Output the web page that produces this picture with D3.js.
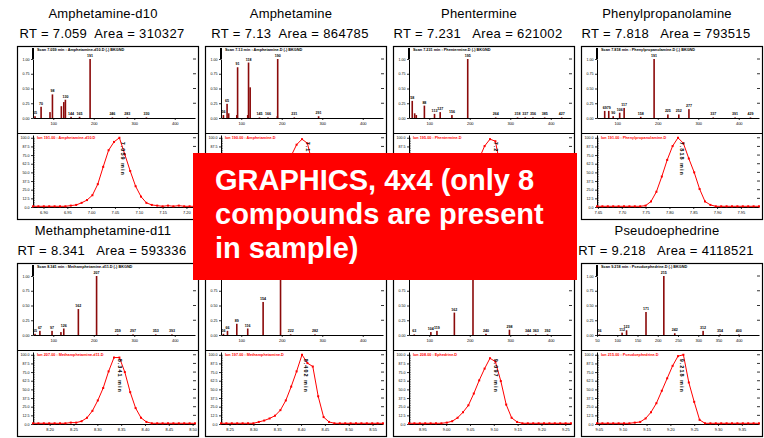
<!DOCTYPE html>
<html>
<head>
<meta charset="utf-8">
<script src="https://cdn.jsdelivr.net/npm/d3@7"></script>
<style>
body { margin: 0; background: #fff; }
svg text { font-family: "Liberation Sans", Arial, sans-serif; }
</style>
</head>
<body>
<div id="chart"></div>
<script>
var W = 764, H = 438;

// compounds, retention times and areas
var compounds = ["Amphetamine-d10", "Amphetamine", "Phentermine", "Phenylpropanolamine",
                 "Methamphetamine-d11", "Methamphetamine", "Ephedrine", "Pseudoephedrine"];
var rtLabels = ["7.059", "7.13", "7.231", "7.818", "8.341", "8.402", "9.097", "9.218"];
var areas = ["310327", "864785", "621002", "793515", "593336", "1124380", "3052217", "4118521"];

// mass spectra (m/z, relative abundance)
var specMz = [
  [55, 70, 92, 98, 120, 126, 130, 144, 165, 191, 246, 283, 330],
  [56, 65, 69, 89, 91, 116, 118, 122, 145, 166, 189, 190, 231, 291],
  [58, 64, 68, 88, 113, 127, 156, 195, 264, 318, 337, 356, 385, 427],
  [69, 79, 90, 106, 117, 158, 191, 225, 252, 277, 337, 391, 429],
  [55, 67, 97, 119, 126, 162, 207, 259, 297, 353, 393],
  [56, 66, 89, 116, 154, 197, 222, 282],
  [63, 104, 119, 162, 208, 240, 298, 344, 363, 392],
  [56, 112, 123, 171, 215, 242, 312, 354, 400]
];
var specInt = [
  [0.03, 0.19, 0.10, 0.40, 0.20, 0.27, 0.31, 0.02, 0.02, 1.00, 0.01, 0.01, 0.01],
  [0.05, 0.24, 0.08, 0.05, 0.86, 0.05, 0.94, 0.52, 0.01, 0.01, 0.03, 1.00, 0.01, 0.03],
  [0.29, 0.08, 0.05, 0.21, 0.07, 0.10, 0.05, 1.00, 0.01, 0.01, 0.01, 0.01, 0.01, 0.01],
  [0.12, 0.12, 0.03, 0.09, 0.17, 0.02, 1.00, 0.06, 0.06, 0.15, 0.01, 0.01, 0.01],
  [0.02, 0.07, 0.07, 0.05, 0.11, 0.44, 1.00, 0.01, 0.01, 0.01, 0.01],
  [0.02, 0.07, 0.19, 0.11, 0.56, 1.00, 0.01, 0.01],
  [0.01, 0.05, 0.07, 0.38, 1.00, 0.02, 0.09, 0.01, 0.01, 0.01],
  [0.01, 0.04, 0.08, 0.39, 1.00, 0.03, 0.07, 0.01, 0.01]
];
var specTicks = [
  [100, 200, 300, 400], [100, 200, 300, 400], [100, 200, 300, 400], [100, 200, 300, 400],
  [100, 200, 300, 400], [100, 200, 300, 400], [100, 200, 300, 400],
  [50, 100, 150, 200, 250, 300, 350, 400]
];

// extracted ion chromatograms: first scan time (min) and intensities (%)
var chromSpan = 0.34;
var chromStart = [6.878, 6.954, 7.055, 7.648, 8.165, 8.232, 8.922, 9.046];
var chromInt = [
  [1, 1, 1, 1, 1, 1, 1, 2, 3, 6, 10, 17, 33, 58, 82, 94, 100, 76, 52, 30, 15, 6, 3, 2, 1, 2, 1, 2, 1, 1, 1],
  [1, 1, 1, 1, 1, 1, 1, 2, 4, 7, 12, 22, 40, 74, 90, 98, 92, 60, 28, 11, 4, 2, 1, 1, 1, 1, 1, 1, 1, 1, 1],
  [1, 1, 1, 1, 1, 1, 1, 1, 2, 4, 8, 18, 45, 70, 88, 98, 95, 55, 22, 7, 3, 1, 1, 1, 1, 1, 1, 1, 1, 1, 1],
  [1, 1, 1, 1, 1, 1, 1, 1, 1, 2, 8, 22, 44, 68, 88, 100, 92, 70, 50, 26, 8, 3, 1, 1, 1, 1, 1, 1, 1, 1, 1],
  [1, 1, 1, 1, 1, 1, 1, 2, 2, 4, 9, 19, 34, 52, 76, 96, 96, 75, 46, 23, 9, 3, 1, 1, 1, 1, 1, 1, 1, 1, 1],
  [1, 1, 1, 1, 1, 1, 1, 3, 5, 8, 12, 20, 34, 54, 76, 100, 88, 83, 40, 10, 3, 1, 1, 1, 1, 1, 1, 1, 1, 1, 1],
  [1, 1, 1, 1, 1, 1, 1, 2, 4, 9, 17, 27, 44, 63, 80, 95, 90, 62, 28, 9, 3, 1, 1, 1, 1, 1, 1, 1, 1, 1, 1],
  [1, 1, 1, 1, 1, 1, 1, 2, 3, 8, 17, 30, 48, 66, 84, 98, 100, 60, 32, 6, 1, 1, 1, 1, 1, 1, 1, 1, 1, 1, 1]
];

var noteLines = ["GRAPHICS, 4x4 (only 8", "compounds are present", "in sample)"];

var svg = d3.select("#chart").append("svg")
    .attr("width", W)
    .attr("height", H);

function styleAxis(sel, size) {
  sel.select(".domain").attr("stroke", "#000").attr("stroke-width", 1);
  sel.selectAll(".tick line").attr("stroke", "#000").attr("stroke-width", 0.8);
  sel.selectAll(".tick text").style("font-size", size + "px").attr("fill", "#000")
     .style("font-family", "'Liberation Sans', Arial, sans-serif");
}

for (var p = 0; p < 8; p++) drawPanel(p);

function drawPanel(p) {
  var c = p % 4, r = Math.floor(p / 4);
  var fx = 17 + c * 188, ft = r === 0 ? 46 : 263;
  var g = svg.append("g");

  // titles
  g.append("text")
      .attr("x", fx + 86).attr("y", ft - 28)
      .attr("text-anchor", "middle")
      .style("font-size", "13px").style("letter-spacing", "0.2px")
      .text(compounds[p]);
  var gap = p < 2 ? "  " : "   ";
  g.append("text")
      .attr("x", fx + 85).attr("y", ft - 8)
      .attr("text-anchor", "middle")
      .style("font-size", "13px").style("letter-spacing", "0.35px")
      .style("white-space", "pre")
      .text("RT = " + rtLabels[p] + gap + "Area = " + areas[p]);

  // frame
  g.append("rect")
      .attr("x", fx + 0.5).attr("y", ft + 0.5)
      .attr("width", 181).attr("height", 173)
      .attr("fill", "none").attr("stroke", "#000").attr("stroke-width", 1.2);
  g.append("line")
      .attr("x1", fx).attr("x2", fx + 181)
      .attr("y1", ft + 87.5).attr("y2", ft + 87.5)
      .attr("stroke", "#000").attr("stroke-width", 1.2);

  // ---- mass spectrum ----
  var xs = d3.scaleLinear().domain([50, 450]).range([fx + 16, fx + 178]);
  var ys = d3.scaleLinear().domain([0, 1]).range([ft + 72, ft + 13]);

  var peaks = specMz[p].map(function(m, i) { return {mz: m, v: specInt[p][i]}; });

  g.selectAll(".bar").data(peaks).enter().append("rect")
      .attr("x", function(d) { return xs(d.mz) - 0.8; })
      .attr("y", function(d) { return ys(d.v); })
      .attr("width", 1.6)
      .attr("height", function(d) { return ys(0) - ys(d.v); })
      .attr("fill", "#8b0a0a");

  // peak labels (skip when a taller peak sits right next to it)
  g.selectAll(".plab").data(peaks.filter(function(d) {
        return !peaks.some(function(o) { return o !== d && Math.abs(o.mz - d.mz) < 8 && o.v > d.v; });
      })).enter().append("text")
      .attr("x", function(d) { return xs(d.mz); })
      .attr("y", function(d) { return ys(d.v) - 2; })
      .attr("text-anchor", "middle")
      .style("font-size", "3.6px").style("font-weight", "bold")
      .text(function(d) { return d.mz; });

  var sx = g.append("g")
      .attr("transform", "translate(0," + (ft + 72) + ")")
      .call(d3.axisBottom(xs).tickValues(specTicks[p]).tickSize(2).tickPadding(2).tickSizeOuter(0));
  styleAxis(sx, 4);

  var sy = g.append("g")
      .attr("transform", "translate(" + (fx + 16) + ",0)")
      .call(d3.axisLeft(ys).tickValues([0, 0.25, 0.5, 0.75, 1]).tickSize(2).tickPadding(1.5)
            .tickFormat(d3.format(".2f")).tickSizeOuter(0));
  styleAxis(sy, 3.6);
  g.append("line")
      .attr("x1", fx + 16).attr("x2", fx + 16)
      .attr("y1", ft + 2).attr("y2", ft + 13)
      .attr("stroke", "#000").attr("stroke-width", 2);

  g.selectAll(".rtick").data([0.25, 0.5, 0.75, 1]).enter().append("line")
      .attr("x1", fx + 176).attr("x2", fx + 179)
      .attr("y1", function(d) { return ys(d); })
      .attr("y2", function(d) { return ys(d); })
      .attr("stroke", "#000").attr("stroke-width", 0.8);

  g.append("text")
      .attr("x", fx + 20).attr("y", ft + 4.5)
      .style("font-size", "3.8px").style("font-weight", "bold")
      .text("Scan " + rtLabels[p] + " min : " + compounds[p] + ".D  (-) BKGND");

  // ---- chromatogram ----
  var t0 = chromStart[p];
  var xc = d3.scaleLinear().domain([t0, t0 + chromSpan]).range([fx + 16, fx + 178]);
  var yc = d3.scaleLinear().domain([0, 104]).range([ft + 161, ft + 89]);
  var step = chromSpan / (chromInt[p].length - 1);
  var pts = chromInt[p].map(function(v, i) { return {t: t0 + i * step, v: v}; });

  var tTicks = d3.range(Math.ceil(t0 / 0.05) * 0.05, t0 + chromSpan, 0.05);
  var cx = g.append("g")
      .attr("transform", "translate(0," + (ft + 161) + ")")
      .call(d3.axisBottom(xc).tickValues(tTicks).tickSize(2).tickPadding(2)
            .tickFormat(d3.format(".2f")).tickSizeOuter(0));
  styleAxis(cx, 4);

  var cy = g.append("g")
      .attr("transform", "translate(" + (fx + 16) + ",0)")
      .call(d3.axisLeft(yc).tickValues(d3.range(0, 101, 12.5)).tickSize(2).tickPadding(1.5)
            .tickFormat(d3.format(".1f")).tickSizeOuter(0));
  styleAxis(cy, 3.6);
  g.append("g")
      .attr("transform", "translate(" + (fx + 16) + ",0)")
      .call(d3.axisRight(yc).tickValues(d3.range(0, 101, 2.5)).tickSize(1.5).tickFormat(""))
      .call(function(s) { s.select(".domain").remove(); s.selectAll("line").attr("stroke", "#000"); });

  g.selectAll(".crtick").data(d3.range(12.5, 101, 12.5)).enter().append("line")
      .attr("x1", fx + 176).attr("x2", fx + 179)
      .attr("y1", function(d) { return yc(d); })
      .attr("y2", function(d) { return yc(d); })
      .attr("stroke", "#000").attr("stroke-width", 0.8);

  g.append("path").datum(pts)
      .attr("fill", "none").attr("stroke", "#ff0000").attr("stroke-width", 1)
      .attr("d", d3.line().x(function(d) { return xc(d.t); }).y(function(d) { return yc(d.v); }));

  g.selectAll(".mk").data(pts).enter().append("rect")
      .attr("x", function(d) { return xc(d.t) - 1; })
      .attr("y", function(d) { return yc(d.v) - 1; })
      .attr("width", 2).attr("height", 2)
      .attr("fill", "#ff0000");

  g.append("text")
      .attr("x", fx + 20).attr("y", ft + 92.5)
      .attr("fill", "#ff0000")
      .style("font-size", "3.8px").style("font-weight", "bold")
      .text("Ion " + d3.max(specMz[p].filter(function(m, i) { return specInt[p][i] === 1; })) + ".00 : " + compounds[p] + ".D");

  var rtNum = +rtLabels[p];
  var ax = xc(rtNum) + 1.5;
  g.append("text")
      .attr("transform", "translate(" + ax + "," + (yc(100) + 4) + ") rotate(90)")
      .style("font-size", "5.5px").style("font-weight", "bold")
      .style("letter-spacing", "1px")
      .text(rtLabels[p] + " min");
}

// red note box on top
var note = svg.append("g");
note.append("rect")
    .attr("x", 193).attr("y", 153)
    .attr("width", 384).attr("height", 127)
    .attr("fill", "#ff0000");
note.selectAll("text").data(noteLines).enter().append("text")
    .attr("x", 215)
    .attr("y", function(d, i) { return 190 + i * 34; })
    .attr("fill", "#fff")
    .style("font-size", "29px").style("font-weight", "bold")
    .text(function(d) { return d; });
</script>
</body>
</html>
